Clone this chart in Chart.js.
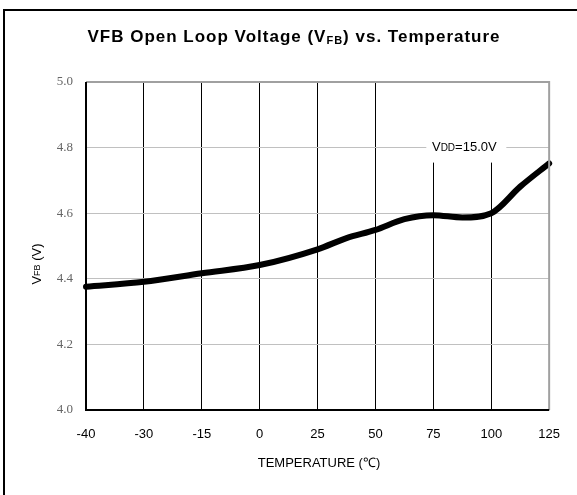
<!DOCTYPE html>
<html>
<head>
<meta charset="utf-8">
<script src="https://cdn.jsdelivr.net/npm/chart.js@4.4.1/dist/chart.umd.min.js"></script>
<style>
  html, body { margin: 0; padding: 0; background: #fff; }
  #wrap { position: relative; width: 577px; height: 495px; }
</style>
</head>
<body>
<div id="wrap"><canvas id="vfbChart" width="577" height="495"></canvas></div>
<script>
// --- Data ---
const tempLabels = ['-40', '-30', '-15', '0', '25', '50', '75', '100', '125'];
// positions along the (evenly spaced) temperature axis, in label index units
const curveIndex = [0, 1, 2, 3, 4, 4.5, 5, 5.5, 6, 6.5, 7, 7.5, 8];
const vfbValues = [4.376, 4.391, 4.417, 4.442, 4.49, 4.524, 4.549, 4.582, 4.594, 4.587, 4.600, 4.681, 4.752];
const yTicks = [4.0, 4.2, 4.4, 4.6, 4.8, 5.0];

const SANS = '"Liberation Sans", Arial, sans-serif';
const SERIF = '"Liberation Serif", "Times New Roman", serif';

// draws text parts one after another; dy shifts a part down (subscripts)
function drawSubText(ctx, x, y, parts) {
  let cx = x;
  parts.forEach(p => {
    ctx.font = p.font;
    ctx.fillText(p.text, cx, y + (p.dy || 0));
    cx += ctx.measureText(p.text).width;
  });
  return cx - x;
}
function measureParts(ctx, parts) {
  return parts.reduce((w, p) => { ctx.font = p.font; return w + ctx.measureText(p.text).width; }, 0);
}

const decorPlugin = {
  id: 'decor',
  beforeDraw(chart) {
    const { ctx } = chart;
    ctx.save();
    ctx.fillStyle = '#fff';
    ctx.fillRect(0, 0, chart.width, chart.height);
    // outer frame (left + top only)
    ctx.strokeStyle = '#000';
    ctx.lineWidth = 2;
    ctx.beginPath();
    ctx.moveTo(4, chart.height); ctx.lineTo(4, 10); ctx.lineTo(chart.width, 10);
    ctx.stroke();
    ctx.restore();
  },
  afterDatasetsDraw(chart) {
    const { ctx, chartArea: a } = chart;
    ctx.save();
    // plot border: gray top/right, black left/bottom
    ctx.lineWidth = 2;
    ctx.strokeStyle = '#a0a0a0';
    ctx.beginPath();
    ctx.moveTo(a.left, a.top); ctx.lineTo(a.right, a.top); ctx.lineTo(a.right, a.bottom);
    ctx.stroke();
    ctx.strokeStyle = '#000';
    ctx.beginPath();
    ctx.moveTo(a.left, a.top); ctx.lineTo(a.left, a.bottom); ctx.lineTo(a.right, a.bottom);
    ctx.stroke();

    ctx.fillStyle = '#000';
    ctx.textBaseline = 'middle';

    // title
    ctx.save();
    ctx.letterSpacing = '1px';
    const titleParts = [
      { text: 'VFB Open Loop Voltage (V', font: 'bold 17px ' + SANS },
      { text: 'FB', font: 'bold 11px ' + SANS, dy: 4 },
      { text: ') vs. Temperature', font: 'bold 17px ' + SANS },
    ];
    const tw = measureParts(ctx, titleParts);
    drawSubText(ctx, 294 - tw / 2, 37, titleParts);
    ctx.restore();

    // x axis title
    ctx.font = '13px ' + SANS;
    ctx.textAlign = 'center';
    ctx.fillText('TEMPERATURE (\u2103)', 319, 463);
    ctx.textAlign = 'left';

    // y axis title, rotated
    ctx.save();
    ctx.translate(37, (a.top + a.bottom) / 2 + 18);
    ctx.rotate(-Math.PI / 2);
    const yParts = [
      { text: 'V', font: '13px ' + SANS },
      { text: 'FB', font: '9px ' + SANS, dy: 1 },
      { text: ' (V)', font: '13px ' + SANS },
    ];
    const yw = measureParts(ctx, yParts);
    drawSubText(ctx, -yw / 2, 0, yParts);
    ctx.restore();

    // annotation with white box behind it
    const xs = chart.scales.x, ys = chart.scales.y;
    const cx = (xs.getPixelForValue(6) + xs.getPixelForValue(7)) / 2 + 2;
    const cy = ys.getPixelForValue(4.8);
    ctx.fillStyle = '#fff';
    ctx.fillRect(cx - 38, a.top + 1, 80, cy - a.top + 14);
    ctx.fillStyle = '#000';
    const vParts = [
      { text: 'V', font: '13px ' + SANS },
      { text: 'DD', font: '10px ' + SANS, dy: 1 },
      { text: '=15.0V', font: '13px ' + SANS },
    ];
    const vw = measureParts(ctx, vParts);
    drawSubText(ctx, cx - vw / 2, cy, vParts);
    ctx.restore();
  },
};

const ctx = document.getElementById('vfbChart').getContext('2d');
new Chart(ctx, {
  type: 'line',
  data: {
    datasets: [{
      data: curveIndex.map((x, i) => ({ x, y: vfbValues[i] })),
      borderColor: '#000',
      borderWidth: 6,
      borderCapStyle: 'round',
      borderJoinStyle: 'round',
      pointRadius: 0,
      tension: 0.3,
      cubicInterpolationMode: 'monotone',
      clip: false,
    }],
  },
  options: {
    responsive: false,
    animation: false,
    events: [],
    layout: { padding: { left: 0, top: 82, right: 25, bottom: 0 } },
    plugins: { legend: { display: false }, tooltip: { enabled: false }, title: { display: false } },
    scales: {
      x: {
        type: 'linear',
        min: 0,
        max: tempLabels.length - 1,
        afterFit: (s) => { s.height = 85; },
        afterBuildTicks: (s) => { s.ticks = tempLabels.map((_, i) => ({ value: i })); },
        grid: { color: '#000', lineWidth: 1, drawTicks: false },
        border: { display: false },
        ticks: {
          padding: 17,
          color: '#000',
          font: { family: SANS, size: 13 },
          maxRotation: 0,
          autoSkip: false,
          callback: (v) => tempLabels[v],
        },
      },
      y: {
        min: 4.0,
        max: 5.0,
        afterFit: (s) => { s.width = 86; },
        afterBuildTicks: (s) => { s.ticks = yTicks.map(v => ({ value: v })); },
        grid: { color: '#c0c0c0', lineWidth: 1, drawTicks: false },
        border: { display: false },
        ticks: {
          padding: 13,
          color: '#666',
          font: { family: SERIF, size: 13 },
          callback: (v) => v.toFixed(1),
        },
      },
    },
  },
  plugins: [decorPlugin],
});
</script>
</body>
</html>
